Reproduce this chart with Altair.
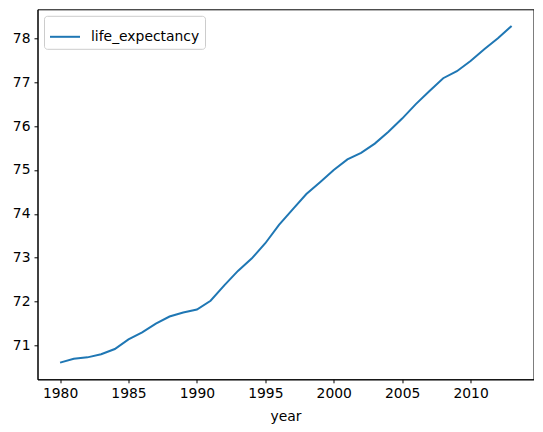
import altair as alt
import pandas as pd

years = list(range(1980, 2014))
life_expectancy = [
    70.61, 70.70, 70.73, 70.80, 70.92, 71.14, 71.30, 71.50, 71.66, 71.75,
    71.82, 72.02, 72.37, 72.70, 72.98, 73.33, 73.75, 74.10, 74.45, 74.72,
    75.00, 75.24, 75.39, 75.60, 75.87, 76.17, 76.50, 76.80, 77.09, 77.25,
    77.48, 77.75, 78.00, 78.28,
]
x_ticks = [1980, 1985, 1990, 1995, 2000, 2005, 2010]
y_ticks = [71, 72, 73, 74, 75, 76, 77, 78]

df = pd.DataFrame({"year": years, "life_expectancy": life_expectancy})
df["series"] = "life_expectancy"

font = "DejaVu Sans"

chart = alt.Chart(df).mark_line(strokeWidth=2).encode(
    x=alt.X(
        "year:Q",
        scale=alt.Scale(domain=[1978.35, 2014.6], nice=False, zero=False),
        axis=alt.Axis(values=x_ticks, format="d", title="year", grid=False,
                      titleFontWeight="normal", titlePadding=9),
    ),
    y=alt.Y(
        "life_expectancy:Q",
        scale=alt.Scale(domain=[70.23, 78.66], nice=False, zero=False),
        axis=alt.Axis(values=y_ticks, format="d", title=None, grid=False),
    ),
    color=alt.Color(
        "series:N",
        scale=alt.Scale(range=["#1f77b4"]),
        legend=alt.Legend(
            title=None, orient="none", legendX=6.5, legendY=6.5,
            symbolType="stroke", symbolSize=900, symbolStrokeWidth=2,
            strokeColor="#cccccc", cornerRadius=3, padding=5,
            fillColor="white", labelFontSize=13.9, labelFont=font,
            labelColor="#000000", labelOffset=10,
        ),
    ),
).properties(
    width=496,
    height=370,
    autosize=alt.AutoSizeParams(type="none"),
    padding={"left": 29.5, "top": 1.3, "right": 0, "bottom": 50},
).configure_view(
    stroke="#000000", strokeWidth=1
).configure_axis(
    domainColor="#000000", tickColor="#000000", tickSize=3.5,
    labelColor="#000000", labelFont=font, labelFontSize=13.9,
    titleColor="#000000", titleFont=font, titleFontSize=13.9,
    labelPadding=4,
)

chart.save("out.html", embed_options={"renderer": "svg", "actions": False})
